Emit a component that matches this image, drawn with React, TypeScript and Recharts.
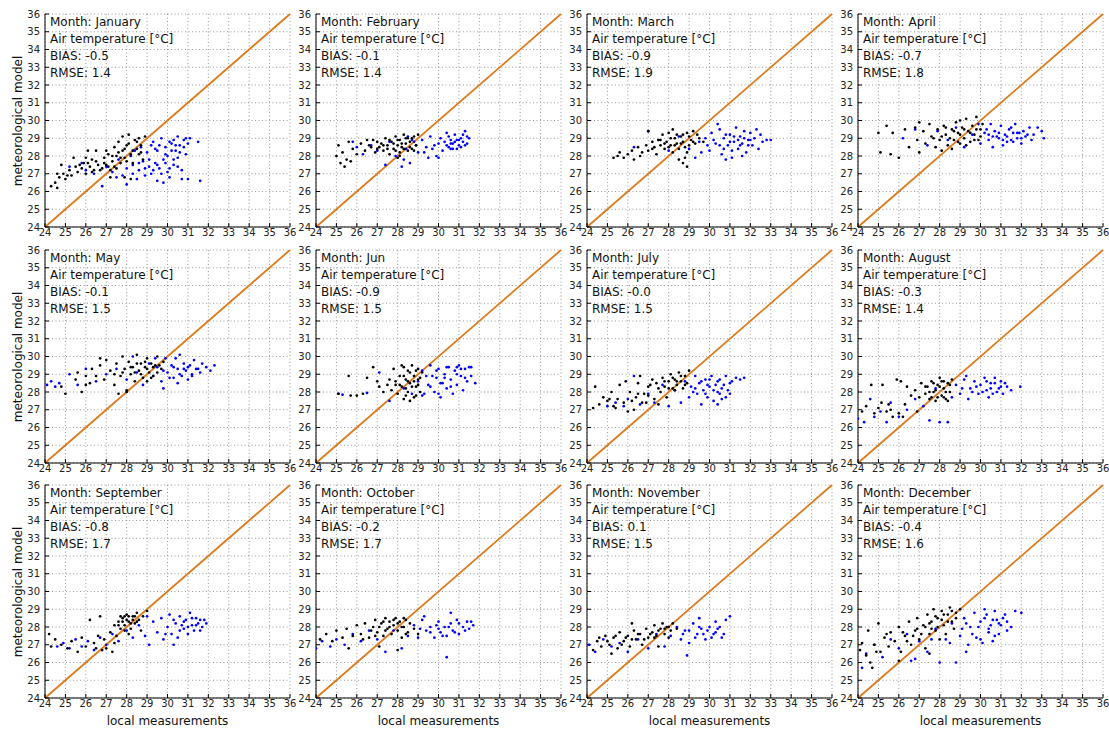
import React from 'react';
import { ScatterChart, Scatter, XAxis, YAxis, CartesianGrid, ReferenceLine } from 'recharts';

// Axis ticks shared by every panel (°C)
const TICKS = [24, 25, 26, 27, 28, 29, 30, 31, 32, 33, 34, 35, 36];

const MONTHS = ['January', 'February', 'March', 'April', 'May', 'Jun', 'July', 'August', 'September', 'October', 'November', 'December'];
const BIAS = ['-0.5', '-0.1', '-0.9', '-0.7', '-0.1', '-0.9', '-0.0', '-0.3', '-0.8', '-0.2', '0.1', '-0.4'];
const RMSE = ['1.4', '1.4', '1.9', '1.8', '1.5', '1.5', '1.5', '1.4', '1.7', '1.7', '1.5', '1.6'];

// Each array is flat [local, model, local, model, ...]
const janBlack = [24.3,26.3, 24.5,26.5, 24.6,26.2, 24.7,26.8, 24.9,27.0, 25.0,26.7, 25.2,27.2, 25.3,26.9, 25.5,27.4, 25.6,27.1, 25.8,27.3, 25.9,27.6, 26.0,27.0, 26.2,27.4, 26.3,27.8, 26.4,27.2, 26.5,28.3, 26.6,27.5, 26.8,27.3, 26.9,27.9, 27.0,27.5, 27.1,28.1, 27.2,27.2, 27.3,27.7, 27.4,28.5, 27.5,28.0, 27.5,27.3, 27.6,28.8, 27.7,27.6, 27.8,28.3, 27.8,29.1, 27.9,27.9, 28.0,28.6, 28.1,29.2, 28.2,28.1, 28.3,27.6, 28.4,28.9, 28.5,28.4, 28.6,29.0, 28.7,28.2, 28.8,27.8, 28.9,29.1, 24.8,27.5, 25.4,27.9, 26.1,28.3, 27.2,26.8, 27.9,26.8, 28.2,26.7,
  26.1,27.6, 26.3,27.1, 26.5,27.7, 26.7,27.2, 26.9,27.6, 27.1,27.4, 27.3,28.0, 27.4,27.4, 27.6,28.2, 27.7,27.9, 27.9,28.4, 28.0,27.7, 28.1,28.7, 28.3,28.3, 28.5,28.8, 28.6,28.1, 28.7,28.6, 25.7,27.5, 25.1,26.9, 24.6,27.0, 26.0,27.9, 27.0,28.3];
const janBlue = [25.2,27.4, 25.8,27.6, 26.0,27.2, 26.4,27.0, 26.8,26.3, 27.0,27.4, 27.3,27.1, 27.6,27.8, 27.8,26.9, 28.0,27.3, 28.0,26.4, 28.2,28.0, 28.3,27.5, 28.5,26.7, 28.6,27.2, 28.7,28.5, 28.8,27.7, 28.9,26.9, 29.0,28.2, 29.1,27.4, 29.2,27.0, 29.3,28.8, 29.4,27.6, 29.5,26.6, 29.5,28.3, 29.6,27.3, 29.7,29.0, 29.8,27.8, 29.9,28.5, 30.0,27.1, 30.0,28.0, 30.1,26.8, 30.2,28.7, 30.3,27.5, 30.4,28.3, 30.5,29.1, 30.5,27.9, 30.6,28.6, 30.7,27.2, 30.8,28.9, 30.9,28.1, 31.0,28.7, 31.0,26.7, 31.1,29.0, 31.5,28.8, 31.6,26.6, 29.8,26.5, 30.3,28.9, 28.4,28.3, 29.2,28.6,
  28.6,27.6, 28.9,27.3, 29.1,27.8, 29.3,27.2, 29.5,27.5, 29.7,27.0, 29.9,27.6, 30.1,27.3, 30.3,27.8, 30.5,27.4, 29.6,28.6, 29.9,28.1, 30.1,28.8, 30.4,28.6, 30.6,28.2, 30.8,28.5, 30.9,29.0, 30.2,28.3, 29.4,28.4, 28.3,27.0, 27.5,26.8, 30.7,26.7];

const febBlack = [25.0,28.0, 25.1,28.6, 25.2,27.6, 25.3,28.2, 25.4,27.4, 25.5,27.8, 25.7,27.7, 25.8,28.4, 26.0,28.1, 26.2,28.7, 26.4,28.3, 26.5,28.9, 26.7,28.5, 26.9,28.2, 27.0,28.8, 27.1,28.5, 27.3,28.3, 27.4,29.0, 27.5,28.6, 27.6,28.1, 27.7,28.8, 27.8,28.4, 27.9,29.1, 28.0,28.6, 28.1,28.2, 28.1,28.9, 28.2,28.5, 28.3,29.2, 28.4,28.7, 28.5,28.3, 28.5,29.0, 28.6,28.8, 28.7,28.4, 28.8,29.1, 28.9,28.6, 29.0,29.2, 28.0,27.9, 27.2,28.7, 26.8,28.9, 25.6,28.8,
  27.3,28.6, 27.5,28.4, 27.6,28.9, 27.8,28.7, 27.9,28.3, 28.0,28.9, 28.2,28.7, 28.3,28.4, 28.4,29.0, 28.6,28.5, 28.7,29.0, 28.8,28.3, 28.1,28.0, 27.0,28.4, 26.6,28.6];
const febBlue = [25.8,28.8, 26.0,28.5, 26.3,28.1, 26.7,28.6, 27.0,28.3, 27.4,27.5, 27.6,28.8, 27.9,28.0, 28.2,27.4, 28.4,28.4, 28.6,27.6, 28.8,28.8, 29.0,28.2, 29.2,28.9, 29.4,28.5, 29.6,29.1, 29.7,28.4, 29.9,28.0, 30.0,28.7, 30.1,29.0, 30.2,28.3, 30.3,28.8, 30.4,29.3, 30.5,28.5, 30.6,28.9, 30.7,28.7, 30.8,29.2, 30.9,28.4, 30.9,28.9, 31.0,28.6, 31.1,29.0, 31.2,28.8, 31.3,29.4, 31.4,28.7, 31.5,29.0, 30.0,27.9, 28.9,28.6, 28.5,29.1, 29.5,27.9, 30.6,28.4,
  30.4,28.6, 30.5,29.1, 30.7,28.4, 30.8,28.8, 31.0,28.9, 31.1,28.5, 31.2,29.2, 31.3,28.6, 31.4,29.1, 30.6,28.7, 29.8,28.6, 29.3,28.2, 28.7,28.9, 28.3,27.8];

const marBlack = [25.3,27.9, 25.5,28.0, 25.6,28.2, 25.8,27.9, 26.0,28.1, 26.2,28.3, 26.3,27.8, 26.5,28.5, 26.7,28.2, 26.9,28.6, 27.0,28.3, 27.2,28.8, 27.3,28.5, 27.5,28.9, 27.6,28.6, 27.7,29.2, 27.8,28.4, 27.9,28.8, 28.0,29.3, 28.1,28.6, 28.2,28.2, 28.3,29.0, 28.4,28.7, 28.5,28.4, 28.6,29.1, 28.7,28.8, 28.8,27.9, 28.9,29.3, 29.0,28.6, 29.1,28.9, 29.2,29.4, 29.3,28.7, 29.5,29.0, 28.7,27.6, 28.9,27.4, 28.5,27.8, 27.0,29.4, 28.2,29.5, 27.4,28.1, 29.7,28.8,
  27.6,28.9, 27.8,28.7, 28.0,28.5, 28.1,29.0, 28.3,28.6, 28.4,29.2, 28.6,28.7, 28.7,29.2, 28.8,28.5, 29.0,29.1, 29.2,28.8, 29.4,29.2, 28.9,28.2, 27.2,28.4, 26.6,28.0];
const marBlue = [26.3,28.5, 27.0,29.4, 27.5,28.9, 28.0,28.3, 28.5,29.1, 29.0,28.4, 29.3,27.9, 29.5,28.8, 29.8,29.0, 30.0,28.3, 30.1,29.3, 30.3,28.7, 30.5,29.5, 30.6,28.1, 30.7,29.0, 30.9,28.6, 31.0,29.2, 31.1,27.9, 31.2,28.8, 31.3,29.6, 31.4,28.4, 31.5,29.1, 31.6,28.7, 31.7,29.4, 31.8,28.2, 31.9,28.9, 32.0,29.3, 32.1,28.6, 32.2,29.0, 32.4,28.4, 32.5,29.2, 32.6,28.8, 32.8,28.9, 33.0,28.9, 30.8,27.8, 29.6,28.2, 31.6,28.0, 30.4,29.8, 32.3,29.5,
  30.2,28.9, 30.5,28.6, 30.8,29.2, 31.0,28.8, 31.2,29.1, 31.4,28.9, 31.5,28.6, 31.7,29.0, 31.9,28.6, 32.0,28.9, 30.7,28.4, 31.1,28.3, 29.9,28.6];

const aprBlack = [25.0,29.3, 25.1,28.2, 25.4,29.7, 25.6,28.1, 25.7,29.3, 26.0,27.9, 26.3,29.5, 26.5,28.5, 26.8,29.6, 26.9,28.9, 27.0,28.2, 27.2,29.4, 27.3,28.7, 27.5,29.8, 27.6,29.1, 27.8,28.5, 27.9,29.5, 28.0,28.9, 28.2,29.7, 28.3,29.2, 28.4,28.6, 28.6,29.5, 28.7,28.9, 28.8,29.9, 28.9,29.3, 29.0,28.7, 29.1,29.6, 29.2,29.0, 29.3,30.1, 29.4,29.4, 29.5,28.8, 29.6,29.7, 29.7,29.2, 29.8,30.2, 29.9,28.9, 30.0,29.5, 30.1,29.8, 28.1,28.3, 29.0,30.0, 27.0,29.9,
  28.1,29.1, 28.3,29.6, 28.5,29.0, 28.7,29.4, 28.9,28.8, 29.0,29.2, 29.2,29.5, 29.3,28.6, 29.5,29.3, 29.7,28.9, 29.8,29.5, 30.0,29.1, 28.6,28.4, 27.7,29.0];
const aprBlue = [26.2,29.0, 26.8,29.5, 27.4,28.6, 27.9,29.4, 28.4,28.9, 28.8,29.6, 29.2,28.5, 29.6,29.2, 29.9,29.8, 30.0,28.7, 30.2,29.3, 30.4,28.9, 30.5,29.8, 30.6,28.5, 30.7,29.4, 30.9,29.0, 31.0,29.7, 31.1,28.6, 31.2,29.2, 31.4,29.5, 31.5,28.9, 31.6,29.3, 31.7,29.8, 31.8,29.0, 32.0,28.7, 32.1,29.4, 32.2,29.1, 32.4,29.6, 32.5,28.9, 32.6,29.2, 32.8,29.6, 33.0,29.4, 33.1,29.0, 30.8,29.1, 31.3,28.8, 30.3,29.5, 31.9,29.3,
  30.6,29.1, 30.9,29.3, 31.1,28.9, 31.3,29.1, 31.6,28.8, 31.8,29.3, 32.0,29.0, 32.3,29.2, 30.4,29.2, 31.5,29.6];

const mayBlack = [24.8,28.3, 25.0,27.9, 25.5,28.7, 25.6,29.1, 25.8,28.0, 26.0,28.9, 26.2,28.5, 26.3,29.3, 26.5,28.9, 26.7,29.5, 26.9,28.7, 27.0,29.8, 27.2,29.2, 27.4,28.4, 27.5,29.6, 27.7,28.9, 27.8,30.0, 27.9,29.3, 28.0,28.1, 28.1,29.7, 28.2,29.0, 28.3,29.4, 28.4,28.6, 28.5,30.1, 28.6,29.2, 28.7,29.6, 28.8,28.8, 28.9,29.4, 29.0,29.9, 29.1,29.1, 29.2,29.6, 29.3,28.9, 29.4,29.5, 29.5,30.0, 29.7,29.3, 29.8,29.7, 28.0,28.0, 27.6,27.9, 29.0,28.6, 26.7,29.9,
  28.2,29.4, 28.4,29.1, 28.5,29.6, 28.7,29.0, 28.9,29.7, 29.0,29.3, 29.2,28.8, 29.3,29.4, 29.5,29.1, 29.6,29.5, 27.8,29.1, 27.4,29.0, 26.0,28.4];
const mayBlue = [24.1,28.4, 24.3,28.6, 24.5,28.3, 24.7,28.5, 25.2,29.0, 25.6,28.4, 26.0,29.3, 26.5,28.6, 27.0,29.0, 27.5,29.3, 28.0,28.7, 28.5,29.1, 28.8,28.4, 29.1,29.6, 29.3,28.9, 29.5,29.4, 29.7,28.6, 29.9,29.9, 30.0,29.1, 30.2,29.5, 30.3,28.8, 30.5,29.3, 30.6,30.1, 30.7,28.9, 30.8,29.6, 30.9,29.2, 31.0,28.7, 31.1,29.5, 31.2,29.0, 31.3,29.8, 31.4,29.3, 31.6,29.1, 31.7,29.6, 31.9,29.4, 32.1,29.2, 32.3,29.5, 29.8,28.2, 30.4,29.9, 28.3,30.0,
  29.8,29.2, 30.1,28.8, 30.3,29.4, 30.6,29.0, 30.8,29.3, 31.0,29.4, 31.2,28.9, 31.5,29.3, 30.5,28.5, 29.4,29.9];

const junBlack = [25.6,28.9, 25.1,27.9, 25.7,27.8, 26.0,27.8, 26.3,27.9, 26.5,28.8, 26.8,29.4, 27.0,28.6, 27.1,28.3, 27.3,28.0, 27.5,28.4, 27.7,28.1, 27.8,29.3, 27.9,28.6, 28.0,27.9, 28.1,28.9, 28.2,28.3, 28.3,29.4, 28.4,28.7, 28.5,28.0, 28.5,29.2, 28.6,28.5, 28.7,29.5, 28.8,27.7, 28.8,28.9, 28.9,28.3, 29.0,29.3, 29.0,28.7, 29.1,28.0, 29.2,29.1, 28.6,27.5, 28.4,27.8, 28.9,27.8, 28.2,29.5, 27.6,28.7,
  28.1,28.4, 28.3,28.9, 28.4,28.2, 28.5,28.6, 28.6,29.1, 28.7,28.3, 28.8,28.6, 28.9,29.2, 29.0,28.4, 29.1,28.8, 28.3,27.6, 27.9,28.4];
const junBlue = [25.1,27.9, 25.3,27.85, 26.5,27.95, 27.1,29.1, 27.6,27.5, 28.3,28.2, 28.7,27.9, 29.0,28.6, 29.2,29.2, 29.3,27.9, 29.5,28.4, 29.6,29.5, 29.8,28.0, 29.9,28.8, 30.0,29.3, 30.1,27.7, 30.2,28.5, 30.3,29.0, 30.4,28.2, 30.5,29.4, 30.6,28.7, 30.7,27.9, 30.8,29.2, 30.9,28.4, 31.0,29.5, 31.1,28.9, 31.2,28.1, 31.3,29.3, 31.4,28.6, 31.5,29.4, 31.6,28.9, 31.8,28.5, 30.3,28.8, 29.7,28.9, 30.9,29.0,
  29.4,28.9, 29.6,28.3, 29.9,29.2, 30.1,28.5, 30.4,29.4, 30.6,28.3, 30.9,29.4, 31.1,29.3, 31.3,28.8, 31.6,29.4, 30.0,27.9, 29.2,27.8];

const julBlack = [24.3,27.1, 24.4,28.3, 24.6,27.3, 24.8,27.7, 25.0,27.5, 25.2,28.0, 25.3,27.2, 25.5,27.6, 25.6,28.4, 25.8,27.4, 26.0,26.9, 26.1,28.0, 26.3,27.0, 26.4,27.7, 26.5,28.5, 26.6,28.9, 26.8,27.9, 26.9,27.4, 27.0,28.3, 27.2,28.7, 27.3,27.6, 27.4,28.5, 27.6,28.0, 27.7,28.8, 27.8,28.3, 27.9,27.7, 28.0,28.6, 28.1,29.0, 28.2,28.2, 28.3,28.7, 28.4,28.4, 28.5,29.1, 28.6,28.6, 28.7,28.2, 28.8,28.9, 28.9,28.5, 29.0,29.2, 26.2,27.5, 27.5,27.3, 25.9,28.6,
  26.5,27.9, 26.7,27.4, 27.0,27.8, 27.1,28.4, 27.5,28.2, 27.8,28.6, 28.0,28.2, 28.2,28.8, 28.4,28.6, 28.6,28.9, 28.8,28.4, 28.3,28.1, 25.4,27.1, 25.1,27.6];
const julBlue = [25.0,27.2, 25.4,27.4, 25.8,27.2, 26.0,27.6, 26.3,28.9, 26.6,27.3, 27.0,27.9, 27.3,27.4, 27.7,28.4, 28.0,27.2, 28.3,28.1, 28.6,27.4, 28.8,28.6, 29.0,27.7, 29.1,28.3, 29.3,28.9, 29.4,27.9, 29.5,28.5, 29.6,27.3, 29.7,28.1, 29.8,28.7, 29.9,27.7, 30.0,28.3, 30.1,28.9, 30.2,27.5, 30.3,28.4, 30.4,28.0, 30.5,28.7, 30.6,27.6, 30.7,28.4, 30.8,28.9, 30.9,28.1, 31.0,27.9, 31.1,28.6, 31.3,28.8, 31.5,28.7, 31.7,28.8, 30.4,27.3, 29.2,28.0,
  29.3,28.2, 29.6,28.6, 29.8,27.9, 30.0,28.7, 30.2,28.1, 30.4,28.6, 30.6,28.2, 30.8,27.7, 31.0,28.5, 29.9,28.4, 30.5,27.9];

const augBlack = [24.2,26.9, 24.4,27.2, 24.65,28.4, 24.8,26.8, 25.0,27.1, 25.15,27.4, 25.2,28.4, 25.4,26.9, 25.6,27.0, 25.7,26.6, 25.9,28.7, 26.0,26.8, 26.1,28.6, 26.3,27.3, 26.4,28.3, 26.6,27.8, 26.8,28.1, 27.0,27.7, 27.1,28.5, 27.3,27.9, 27.4,28.3, 27.5,27.6, 27.6,28.6, 27.7,28.0, 27.8,27.5, 27.9,28.4, 28.0,28.8, 28.1,27.8, 28.2,28.2, 28.3,27.6, 28.4,28.5, 28.5,28.0, 28.6,28.7, 28.4,27.5, 27.9,27.7, 28.2,28.6, 26.9,26.9,
  27.3,28.3, 27.5,28.0, 27.7,28.5, 27.8,28.1, 28.0,28.3, 28.1,28.6, 28.3,28.0, 28.5,28.4, 28.2,27.7, 27.6,27.7, 26.2,26.6, 25.5,27.3];
const augBlue = [24.0,26.5, 24.3,26.3, 24.6,27.6, 24.8,26.6, 25.1,26.9, 25.4,26.3, 25.6,27.4, 26.0,26.6, 26.4,27.0, 26.8,27.6, 27.2,27.2, 27.5,26.4, 27.8,28.2, 28.0,26.3, 28.4,26.3, 28.6,27.7, 28.8,28.4, 29.0,27.9, 29.2,28.7, 29.4,27.6, 29.5,28.2, 29.7,28.6, 29.9,27.9, 30.0,28.4, 30.2,28.8, 30.3,28.1, 30.5,28.5, 30.6,27.9, 30.7,28.8, 30.9,28.2, 31.0,28.6, 31.1,27.9, 31.3,28.3, 31.5,28.1, 31.95,28.3, 30.4,27.7, 29.3,28.9,
  29.8,28.3, 30.1,28.0, 30.3,28.6, 30.5,28.2, 30.7,28.5, 30.8,28.0, 31.0,28.3, 31.2,28.5, 29.6,28.0, 29.1,28.2];

const sepBlack = [24.2,27.6, 24.3,26.9, 24.5,27.3, 24.8,27.0, 25.1,26.8, 25.3,27.2, 25.6,26.6, 25.8,27.4, 26.0,26.9, 26.2,28.4, 26.4,27.1, 26.6,27.5, 26.7,28.6, 26.9,27.3, 27.0,26.8, 27.2,27.7, 27.3,26.6, 27.4,28.1, 27.5,27.5, 27.6,28.3, 27.7,27.9, 27.8,28.5, 27.9,28.1, 28.0,28.7, 28.1,28.3, 28.2,27.9, 28.3,28.6, 28.4,28.2, 28.5,28.8, 28.6,28.4, 28.7,27.8, 28.8,28.6, 29.0,28.9, 28.1,27.6, 27.7,28.6, 26.5,26.8,
  27.6,28.1, 27.8,28.3, 27.9,27.8, 28.0,28.4, 28.1,28.6, 28.2,28.2, 28.3,28.4, 28.4,28.6, 28.5,28.3, 27.9,28.6, 27.4,27.1, 26.8,26.7];
const sepBlue = [24.6,26.9, 24.9,27.1, 25.2,26.8, 25.5,27.3, 25.8,26.9, 26.1,27.2, 26.4,26.7, 26.7,27.4, 27.0,27.0, 27.3,27.6, 27.6,27.2, 28.0,27.8, 28.3,27.4, 28.6,28.1, 28.9,27.5, 29.1,27.0, 29.3,28.3, 29.5,27.7, 29.7,28.5, 29.8,27.3, 30.0,28.0, 30.1,28.7, 30.2,27.6, 30.4,28.2, 30.5,27.4, 30.6,28.6, 30.8,27.9, 30.9,28.4, 31.0,27.6, 31.1,28.8, 31.2,28.1, 31.3,27.8, 31.4,28.5, 31.5,28.2, 31.6,27.8, 31.8,28.4, 31.9,28.2, 30.3,27.0, 29.0,28.6,
  30.3,28.4, 30.6,27.8, 30.8,28.3, 31.0,28.0, 31.2,28.5, 31.4,28.1, 31.6,28.4, 31.7,28.0, 30.7,28.1, 29.9,27.6];

const octBlack = [24.2,27.3, 24.5,27.6, 24.8,27.2, 25.0,27.8, 25.3,27.4, 25.5,27.9, 25.8,27.5, 26.0,28.1, 26.2,27.6, 26.4,28.2, 26.6,27.4, 26.8,28.0, 26.9,28.4, 27.0,27.7, 27.2,28.2, 27.3,27.5, 27.4,28.5, 27.5,27.9, 27.6,28.3, 27.7,27.6, 27.8,28.1, 27.9,28.5, 28.0,27.8, 28.1,28.3, 28.2,27.4, 28.3,28.0, 28.4,28.4, 28.5,27.7, 28.6,28.2, 28.8,27.9, 29.0,27.6, 28.0,26.7, 27.1,26.9, 25.6,26.8,
  26.7,27.8, 26.9,27.5, 27.1,28.0, 27.4,27.8, 27.6,28.0, 27.8,28.4, 28.0,28.2, 28.2,28.0, 28.3,28.5, 28.4,27.6, 27.3,28.3, 26.3,27.3];
const octBlue = [24.0,26.8, 24.3,27.2, 24.7,26.9, 25.0,27.3, 25.4,27.0, 25.8,27.6, 26.2,27.2, 26.6,27.8, 27.0,27.3, 27.4,26.6, 27.8,27.8, 28.2,26.8, 28.5,27.5, 28.8,28.1, 29.0,27.4, 29.2,28.4, 29.4,27.8, 29.6,28.0, 29.8,27.4, 30.0,28.3, 30.1,27.7, 30.3,28.0, 30.4,27.5, 30.6,28.2, 30.7,27.8, 30.9,28.4, 31.0,27.6, 31.2,28.0, 31.4,28.3, 31.5,27.9, 31.7,28.1, 29.3,28.6, 30.6,28.8, 30.4,26.3,
  29.6,27.7, 29.9,28.1, 30.2,27.5, 30.5,28.0, 30.8,27.7, 31.0,28.2, 31.3,27.8, 31.6,28.3, 30.0,27.9, 29.1,27.9];

const novBlack = [24.3,26.7, 24.5,27.2, 24.7,26.9, 24.9,27.5, 25.1,27.0, 25.3,27.4, 25.5,26.8, 25.6,27.7, 25.8,27.2, 26.0,27.5, 26.1,26.9, 26.3,27.8, 26.4,27.3, 26.6,27.6, 26.7,27.0, 26.9,27.9, 27.0,27.4, 27.2,27.7, 27.3,28.1, 27.4,27.5, 27.6,27.9, 27.7,28.2, 27.8,27.6, 27.9,28.0, 28.0,27.4, 28.1,27.8, 28.2,28.2, 28.4,27.9, 26.2,28.2, 25.2,26.5, 27.5,26.9,
  25.0,27.2, 25.4,27.5, 25.7,27.0, 25.9,27.4, 26.2,27.3, 26.5,27.6, 26.8,27.3, 27.1,27.6, 27.3,27.4, 27.5,27.8, 27.8,27.9, 28.0,28.0, 24.6,27.4];
const novBlue = [24.1,27.0, 24.4,26.6, 24.8,27.3, 25.2,26.9, 25.6,27.1, 26.0,26.6, 26.5,27.3, 27.0,26.8, 27.4,27.6, 27.8,26.9, 28.1,27.5, 28.4,28.0, 28.6,27.3, 28.8,27.8, 29.0,27.1, 29.2,28.2, 29.4,27.6, 29.6,27.9, 29.8,27.3, 30.0,28.0, 30.2,27.6, 30.4,27.9, 30.6,27.4, 30.8,28.4, 31.0,28.6, 29.5,28.5, 28.9,26.4, 30.3,28.3,
  28.7,27.6, 29.0,27.8, 29.3,27.4, 29.5,28.0, 29.7,27.6, 29.9,27.8, 30.1,27.4, 30.3,27.7, 30.5,28.0, 30.7,27.6];

const decBlack = [24.1,26.7, 24.2,27.1, 24.4,26.4, 24.5,27.8, 24.6,26.0, 24.7,25.7, 24.8,27.0, 25.0,28.2, 25.1,26.6, 25.3,27.4, 25.5,26.9, 25.6,27.7, 25.8,27.2, 26.0,28.0, 26.1,26.6, 26.3,27.5, 26.5,28.3, 26.6,27.0, 26.8,27.8, 26.9,28.5, 27.0,27.3, 27.2,28.1, 27.3,26.8, 27.4,28.7, 27.5,27.6, 27.6,28.3, 27.7,29.0, 27.8,27.8, 27.9,28.5, 28.0,27.3, 28.1,28.9, 28.2,28.1, 28.3,27.6, 28.4,28.7, 28.5,29.1, 28.6,28.3, 28.7,27.9, 28.8,28.8, 29.0,29.0, 26.0,26.1, 27.5,26.5,
  26.2,27.7, 26.4,27.2, 26.7,27.5, 26.9,27.9, 27.1,27.6, 27.3,28.0, 27.5,28.2, 27.6,27.9, 27.8,28.6, 27.9,28.0, 28.1,28.4, 28.2,28.7, 28.4,28.3, 28.6,28.9, 28.8,28.5, 25.4,27.6, 24.9,26.6];
const decBlue = [24.2,25.7, 24.4,26.5, 24.8,27.0, 25.2,26.3, 25.6,27.3, 26.0,26.8, 26.4,27.6, 26.8,26.2, 27.0,27.2, 27.4,26.6, 27.8,27.9, 28.0,26.0, 28.3,27.3, 28.6,28.2, 28.8,26.0, 29.0,27.5, 29.2,28.5, 29.4,27.0, 29.5,28.0, 29.7,28.8, 29.8,27.4, 30.0,28.3, 30.1,27.1, 30.3,28.7, 30.4,27.7, 30.5,28.1, 30.6,27.2, 30.7,28.9, 30.8,28.4, 30.9,27.6, 31.0,28.1, 31.2,28.7, 31.3,28.3, 31.5,28.0, 31.7,28.9, 32.0,28.8, 29.3,26.6, 30.2,29.0, 26.6,26.1,
  29.1,27.9, 29.3,28.2, 29.6,27.6, 29.9,28.0, 30.0,27.3, 30.2,28.5, 30.4,27.9, 30.6,28.4, 30.7,27.5, 30.9,28.2, 31.1,28.5, 31.3,27.8, 28.5,27.1, 27.6,27.3];

const BLACK_SETS = [janBlack, febBlack, marBlack, aprBlack, mayBlack, junBlack, julBlack, augBlack, sepBlack, octBlack, novBlack, decBlack];
const BLUE_SETS = [janBlue, febBlue, marBlue, aprBlue, mayBlue, junBlue, julBlue, augBlue, sepBlue, octBlue, novBlue, decBlue];

const toPoints = (flat: number[]) => {
  const out: { x: number; y: number }[] = [];
  for (let i = 0; i < flat.length; i += 2) out.push({ x: flat[i], y: flat[i + 1] });
  return out;
};

const FONT = "'DejaVu Sans', sans-serif";
const PLOT_W = 245;
const PLOT_H = 213;
const COL_X = [45, 316, 587, 858];
const ROW_Y = [14, 250, 485];
const AXIS_W = 28;
const AXIS_H = 20;
const M_TOP = 6;
const M_RIGHT = 6;

const dot = (color: string) => (props: any) => (
  <circle cx={props.cx} cy={props.cy} r={1.35} fill={color} />
);

const tickStyle = { fontSize: 10, fill: '#222', fontFamily: FONT };
const emptyTick = () => <g />;

const Panel: React.FC<{ idx: number }> = ({ idx }) => {
  const col = idx % 4;
  const row = Math.floor(idx / 4);
  const left = COL_X[col];
  const top = ROW_Y[row];
  const black = toPoints(BLACK_SETS[idx]);
  const blue = toPoints(BLUE_SETS[idx]);

  return (
    <>
      <div style={{ position: 'absolute', left: left - AXIS_W, top: top - M_TOP }}>
        <ScatterChart
          width={AXIS_W + PLOT_W + M_RIGHT}
          height={M_TOP + PLOT_H + AXIS_H}
          margin={{ top: M_TOP, right: M_RIGHT, bottom: 0, left: 0 }}
        >
          <CartesianGrid stroke="#808080" strokeWidth={0.8} strokeDasharray="1 2.5" />
          <XAxis
            type="number"
            dataKey="x"
            domain={[24, 36]}
            ticks={TICKS}
            interval={0}
            allowDataOverflow
            height={AXIS_H}
            tickSize={-4}
            tickMargin={6}
            tick={tickStyle}
            stroke="#000"
          />
          <XAxis
            xAxisId="top"
            orientation="top"
            type="number"
            domain={[24, 36]}
            ticks={TICKS}
            interval={0}
            height={0}
            tickSize={-4}
            tick={emptyTick}
            stroke="#000"
          />
          <YAxis
            type="number"
            dataKey="y"
            domain={[24, 36]}
            ticks={TICKS}
            interval={0}
            allowDataOverflow
            width={AXIS_W}
            tickSize={-4}
            tickMargin={9}
            tick={tickStyle}
            stroke="#000"
          />
          <YAxis
            yAxisId="right"
            orientation="right"
            type="number"
            domain={[24, 36]}
            ticks={TICKS}
            interval={0}
            width={0}
            tickSize={-4}
            tick={emptyTick}
            stroke="#000"
          />
          <Scatter data={blue} fill="#0000ff" shape={dot('#0000ff')} isAnimationActive={false} />
          <Scatter data={black} fill="#000000" shape={dot('#000000')} isAnimationActive={false} />
          <ReferenceLine
            segment={[{ x: 24, y: 24 }, { x: 36, y: 36 }]}
            stroke="#dd7a1c"
            strokeWidth={1.8}
            ifOverflow="visible"
          />
        </ScatterChart>
      </div>
      <div
        style={{
          position: 'absolute',
          left: left + 5,
          top: top,
          fontFamily: FONT,
          fontSize: 12,
          lineHeight: '17px',
          color: '#111',
          whiteSpace: 'nowrap',
        }}
      >
        <div>Month: {MONTHS[idx]}</div>
        <div>Air temperature [°C]</div>
        <div>BIAS: {BIAS[idx]}</div>
        <div>RMSE: {RMSE[idx]}</div>
      </div>
    </>
  );
};

export default function App() {
  return (
    <div style={{ position: 'absolute', left: 0, top: 0, width: 1109, height: 729, background: '#fff', fontFamily: FONT }}>
      {MONTHS.map((_, i) => (
        <Panel key={i} idx={i} />
      ))}
      {ROW_Y.map((y, r) => (
        <div
          key={'yl' + r}
          style={{
            position: 'absolute',
            left: 18,
            top: y + PLOT_H / 2,
            transform: 'translate(-50%, -50%) rotate(-90deg)',
            fontSize: 12,
            color: '#111',
            whiteSpace: 'nowrap',
          }}
        >
          meteorological model
        </div>
      ))}
      {COL_X.map((x, c) => (
        <div
          key={'xl' + c}
          style={{
            position: 'absolute',
            left: x + PLOT_W / 2,
            top: 721,
            transform: 'translate(-50%, -50%)',
            fontSize: 12,
            color: '#111',
            whiteSpace: 'nowrap',
          }}
        >
          local measurements
        </div>
      ))}
    </div>
  );
}
